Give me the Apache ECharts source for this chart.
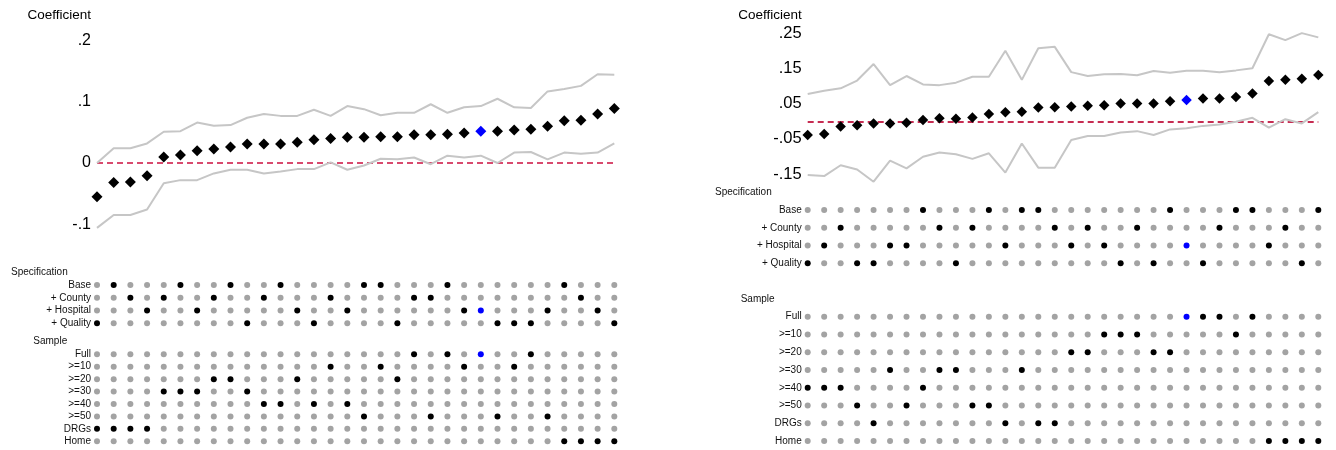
<!DOCTYPE html>
<html>
<head>
<meta charset="utf-8">
<script src="https://cdn.jsdelivr.net/npm/echarts@6/dist/echarts.min.js"></script>
<style>
html,body{margin:0;padding:0;background:#fff;}
#chart{width:1336px;height:450px;}
</style>
</head>
<body>
<div id="chart"></div>
<script>
// ---------- data ----------
const specRows = ['Base', '+ County', '+ Hospital', '+ Quality'];
const sampleRows = ['Full', '>=10', '>=20', '>=30', '>=40', '>=50', 'DRGs', 'Home'];

// Left panel
const leftCoef = [-0.055,-0.032,-0.031,-0.021,0.010,0.013,0.020,0.023,0.026,0.031,0.031,0.031,0.034,0.038,0.040,0.042,
                  0.042,0.043,0.043,0.046,0.046,0.047,0.049,0.052,0.052,0.054,0.055,0.060,0.069,0.070,0.080,0.089];
const leftUpper = [0.000,0.024,0.024,0.032,0.051,0.052,0.066,0.061,0.062,0.074,0.080,0.077,0.077,0.087,0.077,0.093,
                   0.088,0.078,0.082,0.082,0.096,0.082,0.091,0.093,0.105,0.091,0.090,0.117,0.121,0.126,0.145,0.144];
const leftLower = [-0.106,-0.085,-0.085,-0.076,-0.033,-0.028,-0.028,-0.017,-0.011,-0.011,-0.017,-0.014,-0.010,-0.010,0.001,-0.011,
                   -0.004,0.007,0.006,0.009,-0.002,0.012,0.009,0.012,0.000,0.017,0.018,0.006,0.017,0.015,0.017,0.032];
const leftSpec = [3,0,1,2,1,0,2,1,0,3,1,0,2,3,1,2,0,0,3,1,1,0,2,2,3,3,3,2,0,1,2,3];
const leftSample = [6,6,6,6,3,3,3,2,2,3,4,4,2,4,1,4,5,1,2,0,5,0,1,0,5,1,0,5,7,7,7,7];
const leftHighlight = 23;

// Right panel
const rightCoef = [-0.039,-0.036,-0.015,-0.011,-0.006,-0.006,-0.004,0.004,0.009,0.007,0.011,0.021,0.026,0.027,0.039,0.040,
                   0.042,0.044,0.046,0.051,0.051,0.051,0.057,0.061,0.065,0.065,0.069,0.079,0.115,0.118,0.121,0.132];
const rightUpper = [0.078,0.087,0.094,0.116,0.163,0.103,0.129,0.105,0.103,0.110,0.127,0.127,0.201,0.118,0.208,0.212,
                    0.140,0.129,0.134,0.135,0.131,0.143,0.138,0.144,0.144,0.140,0.145,0.151,0.248,0.231,0.251,0.239];
const rightLower = [-0.153,-0.156,-0.125,-0.137,-0.172,-0.112,-0.134,-0.101,-0.089,-0.094,-0.107,-0.091,-0.146,-0.063,-0.132,-0.132,
                    -0.053,-0.042,-0.042,-0.032,-0.028,-0.039,-0.023,-0.020,-0.013,-0.009,-0.001,0.010,-0.018,0.006,-0.006,0.026];
const rightSpec = [3,2,1,3,3,2,2,0,1,3,1,0,2,0,0,1,2,1,2,3,1,3,0,2,3,1,0,0,2,1,3,0];
const rightSample = [4,4,4,5,6,3,5,4,3,3,5,5,6,3,6,6,2,2,1,1,1,2,2,0,0,0,1,0,7,7,7,7];
const rightHighlight = 23;

const leftTicks = {min: -0.1, max: 0.2, interval: 0.1};
const rightTicks = {min: -0.15, max: 0.25, interval: 0.1};

// ---------- styling ----------
const BLACK = '#000000', BLUE = '#0000ff', GRAY_DOT = '#a3a3a3', GRAY_LINE = '#c6c6c6';
const FONT = 'Liberation Sans, Arial, sans-serif';

function fmt(v) {
  if (Math.abs(v) < 1e-9) return '0';
  const s = String(+v.toFixed(3));
  return s.replace('0.', '.');
}

const grids = [], xAxes = [], yAxes = [], series = [], graphics = [];

function addPanel(p) {
  const n = p.coef.length;
  const gBase = grids.length;
  grids.push({left: p.left, width: p.width, top: p.coefTop, height: p.coefHeight});
  grids.push({left: p.left, width: p.width, top: p.specTop, height: p.specHeight});
  grids.push({left: p.left, width: p.width, top: p.sampleTop, height: p.sampleHeight});
  for (let k = 0; k < 3; k++) {
    xAxes.push({type: 'value', gridIndex: gBase + k, min: 0, max: n - 1, show: false});
  }
  yAxes.push({
    type: 'value', gridIndex: gBase, min: p.ticks.min, max: p.ticks.max, interval: p.ticks.interval,
    axisLine: {show: false}, axisTick: {show: false}, splitLine: {show: false},
    axisLabel: {formatter: fmt, fontSize: p.tickFont, color: '#000', margin: 6, fontFamily: FONT,
                showMinLabel: true, showMaxLabel: true}
  });
  const catAxis = (rows, gi) => ({
    type: 'category', gridIndex: gi, data: rows, inverse: true,
    axisLine: {show: false}, axisTick: {show: false}, splitLine: {show: false},
    axisLabel: {fontSize: 10, color: '#111', margin: 6, fontFamily: FONT, interval: 0, hideOverlap: false}
  });
  yAxes.push(catAxis(specRows, gBase + 1));
  yAxes.push(catAxis(sampleRows, gBase + 2));

  // confidence bounds
  [p.upper, p.lower].forEach(arr => {
    series.push({
      type: 'line', xAxisIndex: gBase, yAxisIndex: gBase, clip: false, silent: true,
      showSymbol: false, symbol: 'none',
      lineStyle: {color: GRAY_LINE, width: 2},
      data: arr.map((v, i) => [i, v]), z: 2
    });
  });
  // coefficients
  series.push({
    type: 'scatter', xAxisIndex: gBase, yAxisIndex: gBase, clip: false, silent: true,
    symbol: 'diamond', symbolSize: p.diamond,
    itemStyle: {opacity: 1},
    data: p.coef.map((v, i) => ({value: [i, v], itemStyle: {color: i === p.hl ? BLUE : BLACK, opacity: 1}})),
    z: 4,
    markLine: {
      silent: true, symbol: 'none', label: {show: false},
      lineStyle: {color: p.zeroColor, width: 1.8, type: [6, 4], opacity: 1},
      data: [{yAxis: 0}], z: 1
    }
  });
  // indicator dots
  const dots = (rows, chosen, gi) => {
    const data = [];
    for (let i = 0; i < n; i++) {
      for (let r = 0; r < rows.length; r++) {
        let c = GRAY_DOT;
        if (chosen[i] === r) c = (i === p.hl ? BLUE : BLACK);
        data.push({value: [i, r], itemStyle: {color: c, opacity: 1}});
      }
    }
    series.push({
      type: 'scatter', xAxisIndex: gi, yAxisIndex: gi, clip: false, silent: true,
      symbol: 'circle', symbolSize: p.dot, itemStyle: {opacity: 1}, data: data
    });
  };
  dots(specRows, p.spec, gBase + 1);
  dots(sampleRows, p.sample, gBase + 2);

  graphics.push({type: 'text', x: p.left - 6, y: 15, style: {text: 'Coefficient', font: '13.5px ' + FONT, fill: '#000', textAlign: 'right', textVerticalAlign: 'middle'}});
  graphics.push({type: 'text', x: p.specTitleX, y: p.specTitleY, style: {text: 'Specification', font: '10px ' + FONT, fill: '#111', textAlign: 'left', textVerticalAlign: 'middle'}});
  graphics.push({type: 'text', x: p.sampleTitleX, y: p.sampleTitleY, style: {text: 'Sample', font: '10px ' + FONT, fill: '#111', textAlign: 'left', textVerticalAlign: 'middle'}});
}

addPanel({
  coef: leftCoef, upper: leftUpper, lower: leftLower, spec: leftSpec, sample: leftSample, hl: leftHighlight,
  ticks: leftTicks, left: 97, width: 517.3, coefTop: 40.6, coefHeight: 183.6,
  specTop: 278.6, specHeight: 51.1, sampleTop: 348.1, sampleHeight: 99.4,
  tickFont: 16, diamond: 11, dot: 6, zeroColor: '#d84a6e',
  specTitleX: 11, specTitleY: 272.3, sampleTitleX: 33.3, sampleTitleY: 341
});
addPanel({
  coef: rightCoef, upper: rightUpper, lower: rightLower, spec: rightSpec, sample: rightSample, hl: rightHighlight,
  ticks: rightTicks, left: 807.7, width: 510.6, coefTop: 33.5, coefHeight: 140.5,
  specTop: 201.1, specHeight: 71.1, sampleTop: 307.8, sampleHeight: 142.4,
  tickFont: 16.5, diamond: 10.5, dot: 6, zeroColor: '#c62c52',
  specTitleX: 715, specTitleY: 192.3, sampleTitleX: 740.7, sampleTitleY: 299
});

const chart = echarts.init(document.getElementById('chart'), null, {renderer: 'canvas'});
chart.setOption({
  animation: false,
  backgroundColor: '#ffffff',
  textStyle: {fontFamily: FONT},
  grid: grids, xAxis: xAxes, yAxis: yAxes, series: series,
  graphic: graphics
});
</script>
</body>
</html>
